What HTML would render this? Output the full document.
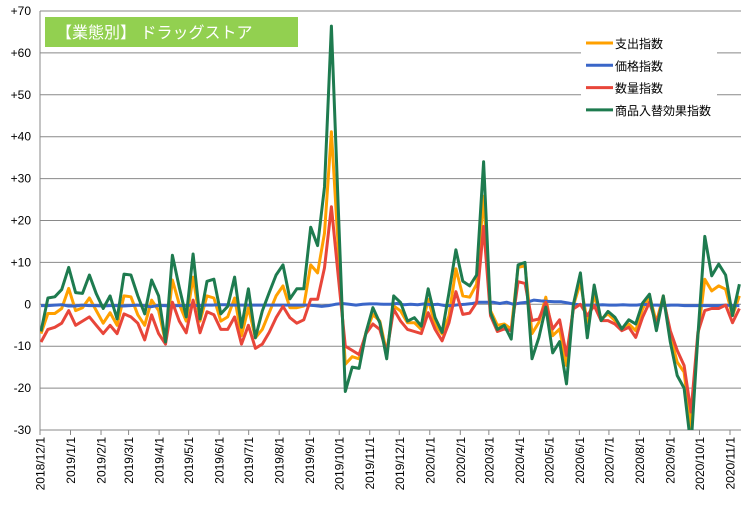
<!DOCTYPE html>
<html><head><meta charset="utf-8">
<style>
html,body{margin:0;padding:0;background:#fff;}
svg{display:block;font-family:"Liberation Sans","Noto Sans CJK JP",sans-serif;}
</style></head>
<body>
<svg id="chart" width="745" height="510" viewBox="0 0 745 510" xmlns="http://www.w3.org/2000/svg">
<g id="grid"></g>
<g id="yaxis"></g>
<g id="xaxis"></g>
<g id="series"></g>
<g>
<rect x="45" y="17" width="253" height="30" fill="#92d050"/>
<text x="56" y="38" fill="#ffffff" font-size="16">【業態別】 ドラッグストア</text>
</g>
<g id="legend">
<rect x="581" y="29" width="136" height="93" fill="#ffffff"/>
</g>
</svg>
<script>
const yTicks = [70,60,50,40,30,20,10,0,-10,-20,-30];
const tickMonths = ["2018/12/1","2019/1/1","2019/2/1","2019/3/1","2019/4/1","2019/5/1","2019/6/1","2019/7/1","2019/8/1","2019/9/1","2019/10/1","2019/11/1","2019/12/1","2020/1/1","2020/2/1","2020/3/1","2020/4/1","2020/5/1","2020/6/1","2020/7/1","2020/8/1","2020/9/1","2020/10/1","2020/11/1"];
const seriesNames = ["支出指数","価格指数","数量指数","商品入替効果指数"];
const seriesColors = ["#ffa000","#3a66c8","#e8463a","#1e7b4f"];
const spending = [-7,-2.2,-2.2,-1,3.8,-1.5,-0.8,1.5,-1.5,-4.5,-2,-5,2,1.8,-2.5,-5,1,-1.5,-9,5.8,0,-4,6.5,-4,2,1.5,-4,-3,1.5,-7.5,-0.8,-8,-6,-2,2,4.4,-0.8,-0.8,-0.4,9.4,7.5,17,41.2,13.5,-14.3,-12.5,-13,-6.7,-2.4,-4,-11.5,-0.4,-1.6,-4.4,-4.4,-6,1.2,-4.8,-7.1,-2.8,8.5,2,1.7,4.8,25.8,-1.5,-5,-4.7,-5.9,8.8,9.2,-7,-4.3,1.7,-7.5,-5.9,-14.6,-0.3,5.2,-4.3,2,-3.5,-2.3,-3.9,-5.9,-4.7,-6.3,-1.1,2,-4.3,2,-7.5,-13.8,-16.2,-29.7,-7.5,6,3.2,4.4,3.6,-2.7,2];
const price = [-0.3,-0.3,-0.2,-0.1,-0.4,-0.4,-0.2,-0.3,-0.3,-0.4,-0.3,-0.3,-0.4,-0.3,-0.2,-0.3,-0.6,-0.3,-0.3,-0.4,-0.3,-0.3,-0.2,-0.3,-0.2,-0.2,-0.1,-0.1,-0.2,-0.2,-0.2,-0.2,-0.2,-0.2,-0.2,-0.2,-0.2,-0.2,-0.2,-0.2,-0.3,-0.5,-0.3,0,0.2,0,-0.2,0,0.1,0.1,0,0,0.2,-0.1,0,-0.1,0.1,-0.1,0,-0.3,-0.3,-0.1,0,0.2,0.5,0.5,0.5,0.2,0.5,0,0.3,0.5,1,0.8,0.7,0.6,0.6,0.3,0,-0.2,-0.2,-0.2,-0.1,-0.2,-0.2,-0.1,-0.2,-0.2,0,-0.2,-0.2,-0.3,-0.2,-0.2,-0.3,-0.3,-0.3,-0.3,-0.3,-0.3,-0.2,-0.3,-0.3];
const quantity = [-9,-6,-5.5,-4.5,-1.5,-5,-4,-3,-5,-7,-5,-7,-2.3,-3,-4.5,-8.5,-2.5,-7,-9.5,0.5,-4,-6.8,1,-6.8,-1.8,-2.5,-6,-6,-3,-9.5,-5,-10.5,-9.5,-6.7,-3.2,-0.5,-3.2,-4.5,-3.7,1.2,1.2,8.7,23.3,6.6,-10,-11,-12,-7,-4.7,-6,-11.5,-1.2,-4,-6,-6.5,-7,-2,-6,-8.7,-4.4,3,-2.4,-2.1,0.4,18.6,-2.7,-6.5,-5.9,-6.3,5.4,5,-3.9,-3.5,0.5,-5.9,-3.7,-12.2,-1.1,0,-2.7,-0.3,-3.9,-3.9,-4.7,-6.3,-5.5,-7.9,-3.1,0.5,-4.7,1.3,-6.3,-11,-14.6,-25.7,-6.7,-1.5,-1,-1,-0.2,-4.4,-1];
const assortment = [-6.5,1.5,1.8,3.5,8.8,2.8,2.6,7,2.5,-1,2,-3.5,7.2,7,2,-2.3,5.8,2,-9,11.7,4,-3,12,-3.5,5.5,6,-2.3,-0.5,6.5,-5.5,3.7,-8,-1.6,2.8,7,9.4,1.3,3.7,3.7,18.4,14,28,66.4,22.8,-20.8,-15,-15.3,-6.7,-0.8,-4.4,-13,2,0.4,-4,-3.2,-5.2,3.7,-3.2,-6.7,2.8,13,5.5,4.4,7,34,-2,-6,-5,-8.3,9.4,10,-13,-7.9,-0.7,-11.6,-8.9,-19,0,7.5,-8,4.6,-3.9,-1.7,-3.1,-5.9,-3.7,-4.7,0.3,2.4,-6.3,2,-9,-17,-20,-34,-7.5,16.2,6.8,9.6,7,-2.7,4.8];

const NS="http://www.w3.org/2000/svg";
const X0=40, X1=741, YTOP=11, YBOT=430, VMAX=70, VMIN=-30;
function yScale(v){return YBOT-(v-VMIN)*(YBOT-YTOP)/(VMAX-VMIN);}
function xIndex(i,n){return 41+i*(739.4-41)/(n-1);}
const base=Date.UTC(2018,11,1);
function xDate(s){const p=s.split("/").map(Number);const d=(Date.UTC(p[0],p[1]-1,p[2])-base)/86400000;return X0+d*0.9843;}
function mk(tag,attrs,parent){const e=document.createElementNS(NS,tag);for(const k in attrs)e.setAttribute(k,attrs[k]);parent.appendChild(e);return e;}

const grid=document.getElementById("grid"), ya=document.getElementById("yaxis"), xa=document.getElementById("xaxis");
yTicks.forEach(t=>{
  const y=yScale(t);
  const g=mk("line",{x1:X0,x2:X1,y1:y,y2:y,stroke:"#898989","stroke-width":1},grid);
  
  
  const tl=mk("text",{x:31,y:y+4,"text-anchor":"end","font-size":12,fill:"#000"},ya);
  
  
  tl.textContent=(t>0?"+":"")+t;
});
const ax=mk("line",{x1:X0,x2:X0,y1:YTOP,y2:YBOT,stroke:"#898989","stroke-width":1},ya);


tickMonths.forEach(m=>{
  const x=xDate(m);
  const tk=mk("line",{x1:x,x2:x,y1:YBOT,y2:YBOT+5,stroke:"#898989","stroke-width":1},xa);
  
  
  const lb=mk("text",{x:0,y:0,"text-anchor":"end","font-size":12,fill:"#000",transform:"translate("+(x+4.5)+","+(YBOT+7)+") rotate(-90)"},xa);
  
  
  lb.textContent=m;
});
const sg=document.getElementById("series");
const allSeries=[spending,price,quantity,assortment];
const seriesKeys=["spending-line","price-line","quantity-line","assortment-line"];
allSeries.forEach((arr,k)=>{
  const pts=arr.map((v,i)=>xIndex(i,arr.length).toFixed(1)+","+yScale(v).toFixed(1)).join(" ");
  const pl=mk("polyline",{points:pts,fill:"none",stroke:seriesColors[k],"stroke-width":3,"stroke-linejoin":"round"},sg);
  
  
});
const defs=mk("defs",{},document.getElementById("chart"));
const cp=mk("clipPath",{id:"plotclip"},defs);
mk("rect",{x:X0,y:0,width:X1-X0+4,height:YBOT},cp);
sg.setAttribute("clip-path","url(#plotclip)");
const lg=document.getElementById("legend");
seriesNames.forEach((n,k)=>{
  const y=43+k*22.3;
  const ln=mk("line",{x1:586,x2:613,y1:y,y2:y,stroke:seriesColors[k],"stroke-width":3},lg);
  
  
  const t=mk("text",{x:615,y:y+5,"font-size":12,fill:"#000"},lg);
  
  
  t.textContent=n;
});
</script>
</body></html>
